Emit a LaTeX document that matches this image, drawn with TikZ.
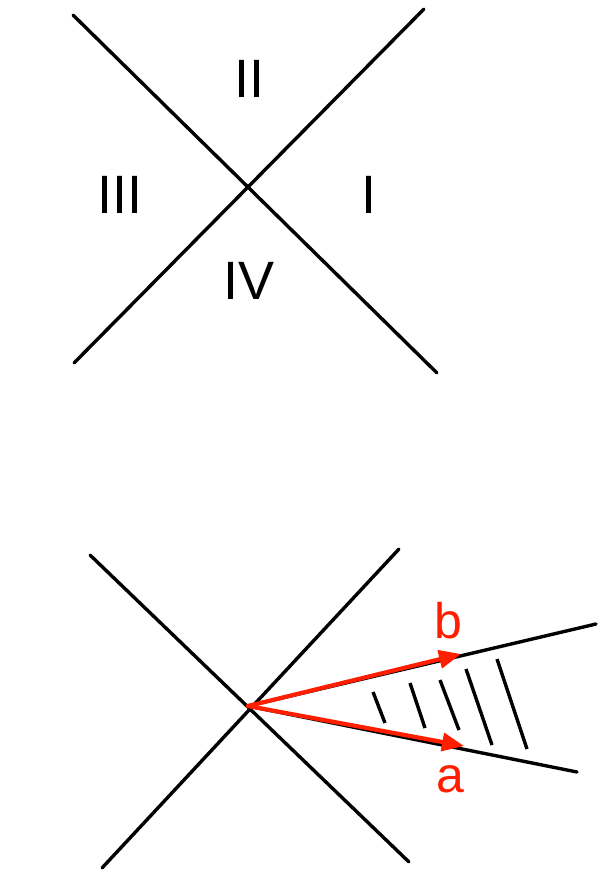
\documentclass[tikz,border=0pt]{standalone}
\usepackage{fontspec}
\setmainfont{Liberation Sans}
\usetikzlibrary{calc, arrows.meta}
\definecolor{vecred}{RGB}{255,30,0}

\begin{document}
\begin{tikzpicture}[x=1pt, y=-1pt,
        axis/.style={line width=3.4pt, line cap=round},
        vec/.style={line width=4.2pt, vecred, line cap=round, -{Triangle[length=22pt, width=18pt]}},
        hatch/.style={line width=3.4pt},
        region/.style={font=\fontsize{54}{60}\selectfont, inner sep=0pt},
        veclabel/.style={font=\fontsize{50}{56}\selectfont, text=vecred, inner sep=0pt}]
        \useasboundingbox (0,0) rectangle (605,877);
        % upper picture: the four regions
        \coordinate (o1) at (248,187);
        \coordinate (nw1) at (73,15);
        \coordinate (se1) at (437,373);
        \coordinate (ne1) at (424,9);
        \coordinate (sw1) at (74,363);
        \draw[axis] (nw1) -- (se1);
        \draw[axis] (ne1) -- (sw1);
        \node[region] (r2) at (249,79) {II};
        \node[region] (r3) at (120,195) {III};
        \node[region] (r1) at (369,195) {I};
        \node[region] (r4) at (249,281) {IV};
        % lower picture: the cone spanned by a and b
        \coordinate (o2) at (248,706);
        \coordinate (nw2) at (90,555);
        \coordinate (se2) at (409,862);
        \coordinate (ne2) at (399,549);
        \coordinate (sw2) at (102,868);
        \draw[axis] (nw2) -- (se2);
        \draw[axis] (ne2) -- (sw2);
        \coordinate (bend) at (596,624);
        \coordinate (aend) at (577,772);
        \draw[axis] (o2) -- (bend);
        \draw[axis] (o2) -- (aend);
        \foreach \xa/\ya/\xb/\yb in {373/692/385/723, 410/683/425/728, 440/680/459/730, 466/669/492/745, 497/659/527/749}
            \draw[hatch] (\xa,\ya) -- (\xb,\yb);
        \coordinate (btip) at (461,654);
        \coordinate (atip) at (464,746);
        \draw[vec] (o2) -- (btip);
        \draw[vec] (o2) -- (atip);
        \node[veclabel] (b) at (448,621) {b};
        \node[veclabel] (a) at (450,779) {a};
\end{tikzpicture}
\end{document}
